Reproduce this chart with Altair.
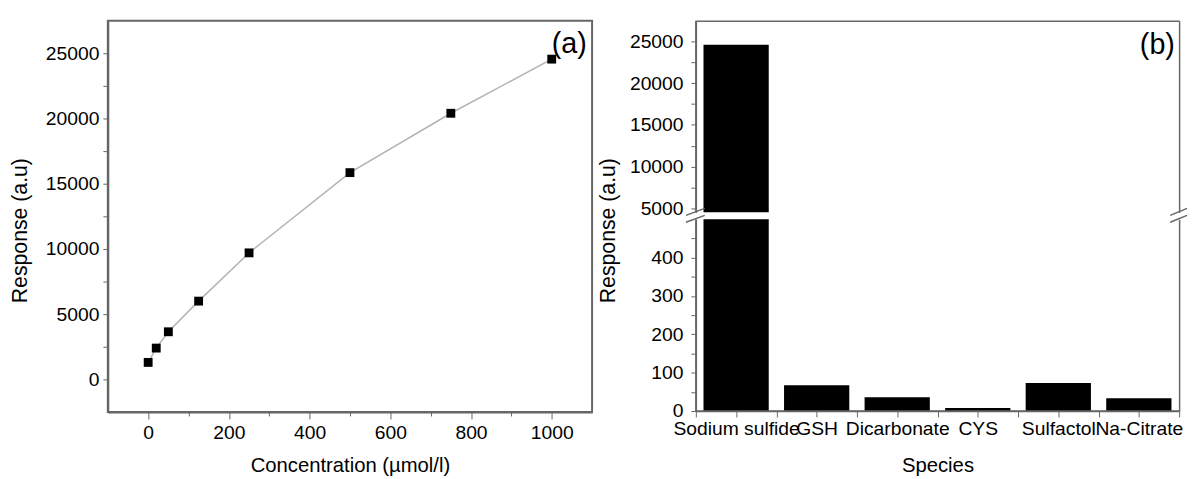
import altair as alt
import pandas as pd

# ---------------- data ----------------
conc = [0, 20, 50, 125, 250, 500, 750, 1000]
resp = [1300, 2400, 3650, 6000, 9700, 15850, 20400, 24550]

species = ["Sodium sulfide", "GSH", "Dicarbonate", "CYS", "Sulfactol", "Na-Citrate"]
species_resp = [24600, 67, 36, 8, 73, 33]

a_x_ticks = [0, 100, 200, 300, 400, 500, 600, 700, 800, 900, 1000]
a_y_ticks = [0, 2500, 5000, 7500, 10000, 12500, 15000, 17500, 20000, 22500, 25000]
b_up_ticks = [5000, 7500, 10000, 12500, 15000, 17500, 20000, 22500, 25000]
b_lo_ticks = [0, 50, 100, 150, 200, 250, 300, 350, 400, 450]
b_x_ticks = [0, 0.5, 1, 1.5, 2, 2.5, 3, 3.5, 4, 4.5, 5, 5.5, 6]

FONT = "Liberation Sans"
AX = "#666666"
YT_SIZE = 21.5

# ---------------- panel (a) ----------------
df_a = pd.DataFrame({"conc": conc, "resp": resp})

xa = alt.X(
    "conc:Q",
    scale=alt.Scale(domain=[-100, 1100], nice=False, zero=False),
    axis=alt.Axis(
        title="Concentration (µmol/l)",
        values=a_x_ticks,
        format="d",
        labelExpr="datum.value % 200 === 0 ? datum.label : ''",
        tickSize={"condition": {"test": "datum.value % 200 === 0", "value": 7}, "value": 4},
        labelPadding=5,
        titlePadding=14,
        labelFlush=False,
        labelOverlap=False,
        domainWidth=2,
    ),
)
ya = alt.Y(
    "resp:Q",
    scale=alt.Scale(domain=[-2500, 27500], nice=False, zero=False),
    axis=alt.Axis(
        title="Response (a.u)",
        values=a_y_ticks,
        format="d",
        labelExpr="datum.value % 5000 === 0 ? datum.label : ''",
        tickSize=5,
        labelPadding=4,
        titleX=-77.5,
        titleY=212,
        titleFontSize=YT_SIZE,
        labelOverlap=False,
        labelFlush=False,
        domainWidth=2,
    ),
)

base_a = alt.Chart(df_a).encode(x=xa, y=ya)
line_a = base_a.mark_line(color="#b3b3b3", strokeWidth=1.5)
pts_a = base_a.mark_square(size=80, color="black", opacity=1)
lab_a = (
    alt.Chart(pd.DataFrame({"t": ["(a)"]}))
    .mark_text(fontSize=29, font=FONT, align="center", baseline="middle", color="black")
    .encode(x=alt.value(467), y=alt.value(24), text="t:N")
)
panel_a = alt.layer(line_a, pts_a, lab_a).properties(width=490, height=396)

# ---------------- panel (b) ----------------
df_b = pd.DataFrame({"species": species, "resp": species_resp})
names_js = "[" + ",".join("'" + s + "'" for s in species) + "]"

W_B = 489
H_B = 194


def bars_base():
    return (
        alt.Chart(df_b)
        .transform_window(rn="row_number()")
        .transform_calculate(x0="datum.rn - 1 + 0.095", x1="datum.rn - 0.095")
    )


def seg(x0, x1, y0, y1, w=1.5):
    return (
        alt.Chart(pd.DataFrame({"k": [0]}))
        .mark_rule(color=AX, strokeWidth=w)
        .encode(x=alt.value(x0), x2=alt.value(x1), y=alt.value(y0), y2=alt.value(y1))
    )


xscale_b = alt.Scale(domain=[0, 6], nice=False, zero=False)

# upper part
up_bars = bars_base().mark_bar(color="black", clip=True).encode(
    x=alt.X("x0:Q", scale=xscale_b, axis=None),
    x2="x1:Q",
    y=alt.Y(
        "resp:Q",
        scale=alt.Scale(domain=[4500, 27500], nice=False, zero=False),
        axis=alt.Axis(
            title="Response (a.u)",
            values=b_up_ticks,
            format="d",
            labelExpr="datum.value % 5000 === 0 ? datum.label : ''",
            tickSize=5,
            labelPadding=8,
            titleX=-77.5,
            titleY=212,
            titleFontSize=YT_SIZE,
            labelOverlap=False,
            labelFlush=False,
            domainWidth=1.5,
        ),
    ),
    y2=alt.datum(0),
)
up_frame = bars_base().mark_bar(opacity=0, clip=True).encode(
    x=alt.X(
        "x0:Q",
        scale=xscale_b,
        axis=alt.Axis(orient="top", labels=False, ticks=False, title=None, domainWidth=1.5),
    ),
    x2="x1:Q",
    y=alt.Y(
        "resp:Q",
        axis=alt.Axis(orient="right", labels=False, ticks=False, title=None, domainWidth=1.5),
    ),
    y2=alt.datum(0),
)
lab_b = (
    alt.Chart(pd.DataFrame({"t": ["(b)"]}))
    .mark_text(fontSize=29, font=FONT, align="center", baseline="middle", color="black")
    .encode(x=alt.value(467), y=alt.value(25), text="t:N")
)

up_extra = [
    seg(0, 0, 0, H_B),  # left frame line
    seg(-10, 9, 197, 190),  # break marks
    seg(-10, 9, 204, 197),
    seg(W_B - 9, W_B + 8, 197, 190),
    seg(W_B - 9, W_B + 8, 204, 197),
]

upper = (
    alt.layer(up_bars, up_frame, lab_b, *up_extra)
    .resolve_axis(x="independent", y="independent")
    .properties(width=W_B, height=H_B, view=alt.ViewBackground(stroke="transparent"))
)

# lower part
lo_bars = bars_base().mark_bar(color="black", clip=True).encode(
    x=alt.X(
        "x0:Q",
        scale=xscale_b,
        axis=alt.Axis(
            title="Species",
            values=b_x_ticks,
            labelExpr="datum.value % 1 === 0.5 ? " + names_js + "[floor(datum.value)] : ''",
            tickSize=6,
            labelPadding=3,
            titlePadding=18,
            labelOverlap=False,
            labelFlush=False,
            domainWidth=1.5,
        ),
    ),
    x2="x1:Q",
    y=alt.Y(
        "resp:Q",
        scale=alt.Scale(domain=[0, 500], nice=False, zero=False),
        axis=alt.Axis(
            title=None,
            values=b_lo_ticks,
            format="d",
            labelExpr="datum.value % 100 === 0 ? datum.label : ''",
            tickSize=5,
            labelPadding=8,
            labelOverlap=False,
            labelFlush=False,
            domainWidth=1.5,
        ),
    ),
    y2=alt.datum(0),
)
lo_frame = bars_base().mark_bar(opacity=0, clip=True).encode(
    x=alt.X("x0:Q", scale=xscale_b, axis=None),
    x2="x1:Q",
    y=alt.Y(
        "resp:Q",
        axis=alt.Axis(orient="right", labels=False, ticks=False, title=None, domainWidth=1.5),
    ),
    y2=alt.datum(0),
)
lo_extra = [
    seg(0, 0, 0, H_B),  # left frame line
    seg(0, W_B, H_B, H_B),  # bottom frame line
]
lower = (
    alt.layer(lo_bars, lo_frame, *lo_extra)
    .resolve_axis(x="independent", y="independent")
    .properties(width=W_B, height=H_B, view=alt.ViewBackground(stroke="transparent"))
)

panel_b = alt.vconcat(upper, lower, spacing=7, bounds="flush")

chart = (
    alt.hconcat(panel_a, panel_b, spacing=3)
    .properties(padding={"left": 0, "top": 8, "right": 0, "bottom": 0})
    .configure(font=FONT)
    .configure_view(stroke=AX, strokeWidth=2)
    .configure_axis(
        labelFont=FONT,
        titleFont=FONT,
        labelFontSize=19.5,
        titleFontSize=20.5,
        labelColor="black",
        titleColor="black",
        titleFontWeight="normal",
        tickColor=AX,
        domainColor=AX,
        grid=False,
    )
)

chart.save("out.html", embed_options={"renderer": "svg", "actions": False})
